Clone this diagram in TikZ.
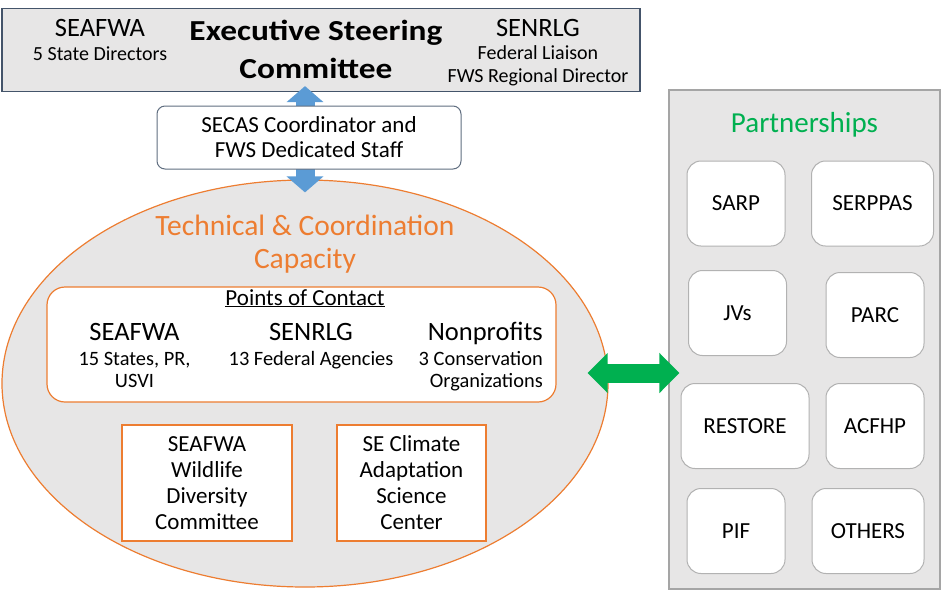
\documentclass[tikz,border=0pt]{standalone}
\usepackage{fontspec}
\setmainfont{Carlito}
\newfontfamily\wideface[FakeStretch=1.15]{Carlito}
\usetikzlibrary{shapes.geometric}
\usetikzlibrary{arrows.meta}

\definecolor{bandgray}{HTML}{E7E6E6}
\definecolor{slate}{HTML}{44546A}
\definecolor{secblue}{HTML}{5B9BD5}
\definecolor{techorange}{HTML}{ED7D31}
\definecolor{partgreen}{HTML}{00B050}
\definecolor{partedge}{HTML}{A5A5A5}

\begin{document}
\begin{tikzpicture}[x=1pt,y=-1pt]
      \tikzset{
        every node/.style={inner sep=0pt},
        fs/.style 2 args={font=\fontsize{#1}{#2}\selectfont},
        band/.style={draw=slate, fill=bandgray, line width=1.2pt},
        staffbox/.style={draw=slate!85, fill=white, rounded corners=8pt, line width=1pt,
          minimum width=304pt, minimum height=63pt, align=center, fs={23}{25}},
        orgbox/.style={draw=techorange, fill=white, line width=1.2pt,
          minimum height=116pt, align=center, fs={23}{26}},
        partbox/.style={draw=partedge!85, fill=white, rounded corners=14pt, line width=1pt,
          minimum height=85pt, fs={23}{26}},
        bluearrow/.style={draw=secblue, line width=19pt,
          {Triangle[width=36pt,length=16pt]}-{Triangle[width=36pt,length=16pt]}},
        greenarrow/.style={draw=partgreen, line width=19pt,
          {Triangle[width=39pt,length=20pt]}-{Triangle[width=39pt,length=20pt]}},
      }
      \useasboundingbox (0,0) rectangle (942,590);

      % executive steering committee
      \node[band, minimum width=638pt, minimum height=83pt] (esc) at (321,50) {};
      \node[fs={26.5}{30}, anchor=base] (seafwa) at (100,36) {SEAFWA};
      \node[fs={20}{24}, anchor=base] (seafwadir) at (100,60) {5 State Directors};
      \node[font=\fontsize{29}{38}\wideface\bfseries, align=center, anchor=base] (esctitle) at (316,78) {Executive Steering\\Committee};
      \node[fs={26.5}{30}, anchor=base] (senrlg) at (538,36) {SENRLG};
      \node[fs={20}{22.5}, align=center, anchor=base] (senrlgdir) at (538,82) {Federal Liaison\\FWS Regional Director};

      % technical and coordination capacity
      \node[ellipse, draw=techorange, fill=bandgray, line width=1.2pt,
        minimum width=606pt, minimum height=407pt] (tech) at (305,383.5) {};
      \node[fs={29.5}{33}, text=techorange, align=center, anchor=base] (techtitle) at (305,268) {Technical \& Coordination\\Capacity};

      \draw[bluearrow, shorten <=-6pt, shorten >=-13pt] (tech.north |- esc.south) -- (tech.north);
      \node[staffbox] (secas) at (309,137.5) {SECAS Coordinator and\\FWS Dedicated Staff};

      \node[draw=techorange, fill=white, rounded corners=18pt, line width=1.2pt,
        minimum width=509pt, minimum height=115pt] (poc) at (301.5,344.5) {};
      \node[fs={23}{26}, anchor=base] (poctitle) at (305,305) {\underline{Points of Contact}};
      \node[fs={26.5}{30}, anchor=base] (pocseafwa) at (134.5,340) {SEAFWA};
      \node[fs={20.4}{22}, align=center, anchor=base] at (134.5,387) {15 States, PR,\\USVI};
      \node[fs={26.5}{30}, anchor=base] (pocsenrlg) at (311,340) {SENRLG};
      \node[fs={20.4}{22}, anchor=base] at (311,365) {13 Federal Agencies};
      \node[fs={26.5}{30}, anchor=base east] (pocngo) at (543,340) {Nonprofits};
      \node[fs={20.4}{22}, align=right, anchor=base east] at (543,387) {3 Conservation\\Organizations};

      \node[orgbox, minimum width=170pt] (wdc) at (207,483) {SEAFWA\\Wildlife\\Diversity\\Committee};
      \node[orgbox, minimum width=149pt] (casc) at (411.5,483) {SE Climate\\Adaptation\\Science\\Center};

      % partnerships
      \node[draw=partedge, fill=bandgray, line width=1.2pt,
        minimum width=271pt, minimum height=499pt] (part) at (804.5,339.5) {};
      \node[fs={29}{32}, text=partgreen, anchor=base] (parttitle) at (804.5,132) {Partnerships};
      \node[partbox, minimum width=98pt] (sarp) at (736,203.5) {SARP};
      \node[partbox, minimum width=122pt] (serppas) at (872.5,203.5) {SERPPAS};
      \node[partbox, minimum width=98pt] (jvs) at (737.5,313) {JVs};
      \node[partbox, minimum width=98pt] (parc) at (875,315) {PARC};
      \node[partbox, minimum width=128pt] (restore) at (745,426) {RESTORE};
      \node[partbox, minimum width=98pt] (acfhp) at (875,426) {ACFHP};
      \node[partbox, minimum width=98pt] (pif) at (736,531) {PIF};
      \node[partbox, minimum width=112pt] (others) at (868,531) {OTHERS};

      \draw[greenarrow, shorten <=-21pt, shorten >=-11pt]
        ([yshift=10.5pt]tech.east) -- ([yshift=10.5pt]tech.east -| part.west);
    \end{tikzpicture}
\end{document}
